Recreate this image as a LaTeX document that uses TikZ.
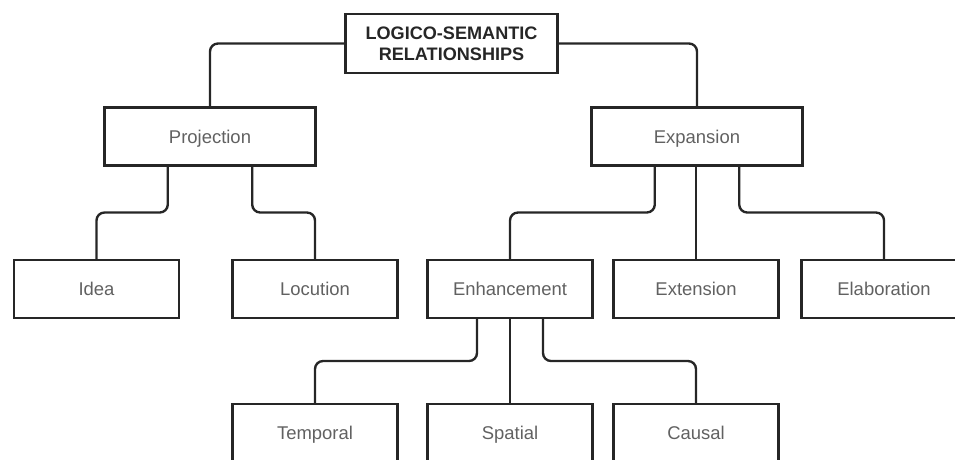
\documentclass[tikz,border=0pt]{standalone}
\usepackage{fontspec}
\setmainfont{Liberation Sans}
\usetikzlibrary{positioning,calc}
\tikzset{
  rbox/.style  ={draw=black!85, line width=1.35pt, align=center, inner sep=2pt, outer sep=0pt,
                 font=\fontsize{10.5}{12}\selectfont, text=black!62},
  rtop/.style  ={rbox, minimum width=42.4mm, minimum height=11.8mm, text=black!85,
                 font=\bfseries\fontsize{10.3}{11.9}\selectfont},
  rmid/.style  ={rbox, minimum width=42.2mm, minimum height=11.6mm,
                 text height=7.5pt, text depth=0pt},
  rleaf/.style ={rmid, minimum width=33mm},
  rcon/.style  ={draw=black!85, line width=1.35pt, rounded corners=1.6mm},
}
\begin{document}
\begin{tikzpicture}[x=0.2mm, y=0.2mm]
\useasboundingbox (0,0) rectangle (955,-459);
\clip (0,0) rectangle (955,-459);
\node[rtop] (lsr) at (451.5,-43.5) {LOGICO-SEMANTIC\\RELATIONSHIPS};
\node[rmid, below left=6.9mm and 6mm of lsr] (proj) {Projection};
\node[rmid, below right=6.9mm and 6.8mm of lsr] (exp) {Expansion};
\node[rleaf, below=18.9mm of proj, xshift=-22.7mm] (idea) {Idea};
\node[rleaf, right=10.7mm of idea] (loc) {Locution};
\node[rleaf, right=6mm of loc] (enh) {Enhancement};
\node[rleaf, right=4.2mm of enh] (ext) {Extension};
\node[rleaf, right=4.6mm of ext] (elab) {Elaboration};
\node[rleaf, below=17.2mm of loc] (temp) {Temporal};
\node[rleaf, below=17.2mm of enh] (spat) {Spatial};
\node[rleaf, below=17.2mm of ext] (caus) {Causal};

\draw[rcon] (lsr.west) -| (proj.north);
\draw[rcon] (lsr.east) -| (exp.north);
\draw[rcon] ($(proj.south west)!0.3!(proj.south east)$) -- ++(0,-9.4mm) -| (idea.north);
\draw[rcon] ($(proj.south west)!0.7!(proj.south east)$) -- ++(0,-9.4mm) -| (loc.north);
\draw[rcon] ($(exp.south west)!0.3!(exp.south east)$) -- ++(0,-9.4mm) -| (enh.north);
\draw[rcon] (exp.south -| ext.north) -- (ext.north);
\draw[rcon] ($(exp.south west)!0.7!(exp.south east)$) -- ++(0,-9.4mm) -| (elab.north);
\draw[rcon] ($(enh.south west)!0.3!(enh.south east)$) -- ++(0,-8.6mm) -| (temp.north);
\draw[rcon] (enh.south) -- (spat.north);
\draw[rcon] ($(enh.south west)!0.7!(enh.south east)$) -- ++(0,-8.6mm) -| (caus.north);
\end{tikzpicture}
\end{document}
